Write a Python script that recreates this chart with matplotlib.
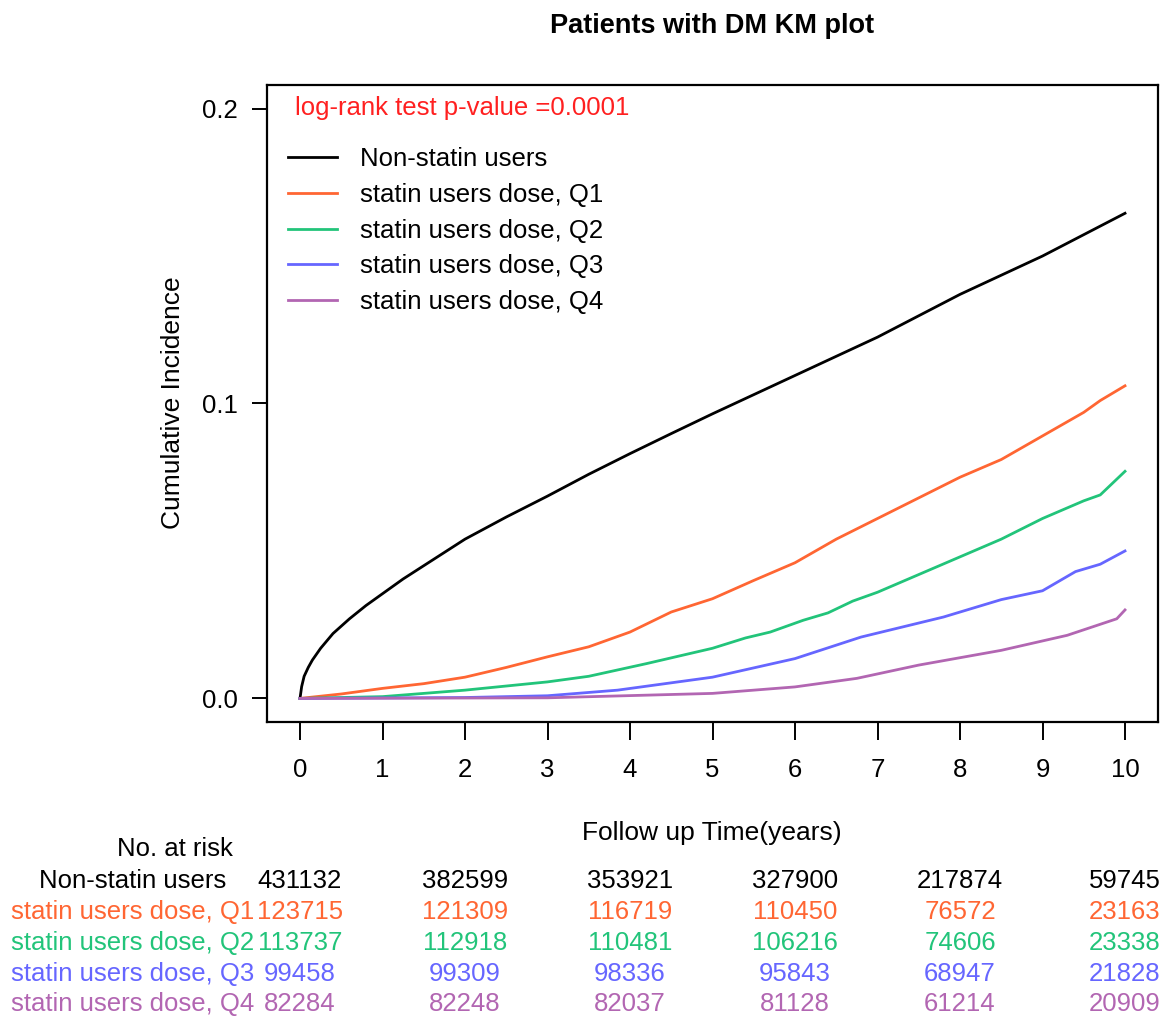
import matplotlib
matplotlib.use("Agg")
import matplotlib.pyplot as plt
from matplotlib.transforms import blended_transform_factory

plt.rcParams['font.family'] = ['Liberation Sans', 'DejaVu Sans']

# curves (time in years, cumulative incidence)
groups = ["Non-statin users", "statin users dose, Q1", "statin users dose, Q2",
          "statin users dose, Q3", "statin users dose, Q4"]
colors = ["#000000", "#FF6633", "#22C47A", "#6666FF", "#B266B2"]

non_t = [0, 0.02, 0.05, 0.1, 0.15, 0.25, 0.4, 0.6, 0.8, 1, 1.25, 1.5, 2, 2.5, 3,
         3.5, 4, 4.5, 5, 6, 7, 8, 9, 10]
non_v = [0, 0.004, 0.0075, 0.0105, 0.013, 0.017, 0.022, 0.027, 0.0315, 0.0355,
         0.0405, 0.045, 0.054, 0.0615, 0.0686, 0.076, 0.083, 0.0898, 0.0965, 0.1095,
         0.1225, 0.137, 0.150, 0.1645]

q1_t = [0, 0.5, 1, 1.5, 2, 2.5, 3, 3.5, 4, 4.5, 5, 5.5, 6, 6.5, 7, 7.5, 8, 8.5,
        9, 9.5, 9.7, 10]
q1_v = [0, 0.0015, 0.0034, 0.005, 0.0072, 0.0105, 0.0141, 0.0175, 0.0225, 0.0293,
        0.0338, 0.040, 0.046, 0.054, 0.061, 0.068, 0.075, 0.081, 0.089, 0.097,
        0.101, 0.106]

q2_t = [0, 1, 2, 3, 3.5, 4.2, 5, 5.4, 5.7, 6.1, 6.4, 6.7, 7, 7.5, 8, 8.5, 9, 9.5,
        9.7, 10]
q2_v = [0, 0.0006, 0.0028, 0.0056, 0.0075, 0.0118, 0.017, 0.0205, 0.0225, 0.0265,
        0.029, 0.033, 0.036, 0.042, 0.048, 0.054, 0.061, 0.067, 0.069, 0.077]

q3_t = [0, 2, 3, 3.85, 5, 6, 6.8, 7.8, 8.5, 9, 9.4, 9.7, 10]
q3_v = [0, 0.0003, 0.0009, 0.0028, 0.0072, 0.0135, 0.0208, 0.0276, 0.0335, 0.0365,
        0.043, 0.0455, 0.050]

q4_t = [0, 3, 5, 6, 6.75, 7.5, 8.5, 9.3, 9.9, 10]
q4_v = [0, 0.0002, 0.0017, 0.0039, 0.0068, 0.0113, 0.0163, 0.0214, 0.027, 0.030]

# number at risk table
risk_times = [0, 2, 4, 6, 8, 10]
risk_non = [431132, 382599, 353921, 327900, 217874, 59745]
risk_q1 = [123715, 121309, 116719, 110450, 76572, 23163]
risk_q2 = [113737, 112918, 110481, 106216, 74606, 23338]
risk_q3 = [99458, 99309, 98336, 95843, 68947, 21828]
risk_q4 = [82284, 82248, 82037, 81128, 61214, 20909]

curves = [(non_t, non_v), (q1_t, q1_v), (q2_t, q2_v), (q3_t, q3_v), (q4_t, q4_v)]
risks = [risk_non, risk_q1, risk_q2, risk_q3, risk_q4]

W, H = 1167, 1017
fig = plt.figure(figsize=(W / 100, H / 100), dpi=100)
ax = fig.add_axes([267 / W, 1 - 722 / H, 891 / W, 637 / H])

for (t, v), name, c in zip(curves, groups, colors):
    ax.plot(t, v, color=c, lw=2.0, label=name)

ax.set_xlim(-0.4, 10.4)
ax.set_ylim(-0.008, 0.208)
ax.set_xticks(range(0, 11))
ax.set_yticks([0.0, 0.1, 0.2])
ax.set_yticklabels(["0.0", "0.1", "0.2"])
for s in ax.spines.values():
    s.set_linewidth(1.6)
ax.tick_params(axis='y', direction='out', length=11, width=1.4, pad=10, labelsize=18.5)
ax.tick_params(axis='x', direction='out', length=13, width=1.4, pad=13, labelsize=18.5)

ax.text(0.0314, 0.964, "log-rank test p-value =0.0001", transform=ax.transAxes,
        color="#FF2020", fontsize=18.5, ha='left', va='center')

ax.legend(loc='upper left', bbox_to_anchor=(0.0236, 0.902), frameon=False,
          fontsize=18.5, borderaxespad=0, borderpad=0, handlelength=1.9,
          handletextpad=0.9, labelspacing=0.45)

fig.text(712 / W, 1 - 33 / H, "Patients with DM KM plot", ha='center', va='baseline',
         fontsize=19.5, fontweight='bold')
fig.text(173 / W, 1 - 403 / H, "Cumulative Incidence", rotation=90, ha='center',
         va='center', fontsize=19)
fig.text(712 / W, 1 - 840 / H, "Follow up Time(years)", ha='center', va='baseline',
         fontsize=19)

# number at risk table below the plot
tr = blended_transform_factory(ax.transData, fig.transFigure)
fig.text(175 / W, 1 - 856 / H, "No. at risk", ha='center', va='baseline', fontsize=18.5)
row_base = [888, 919, 950, 981, 1011]
for name, c, counts, yb in zip(groups, colors, risks, row_base):
    fig.text(133 / W, 1 - yb / H, name, ha='center', va='baseline', fontsize=18.5, color=c)
    for t, n in zip(risk_times, counts):
        ax.text(t, 1 - yb / H, str(n), transform=tr, ha='center', va='baseline',
                fontsize=18.5, color=c)

fig.savefig("out.png", dpi=100)
